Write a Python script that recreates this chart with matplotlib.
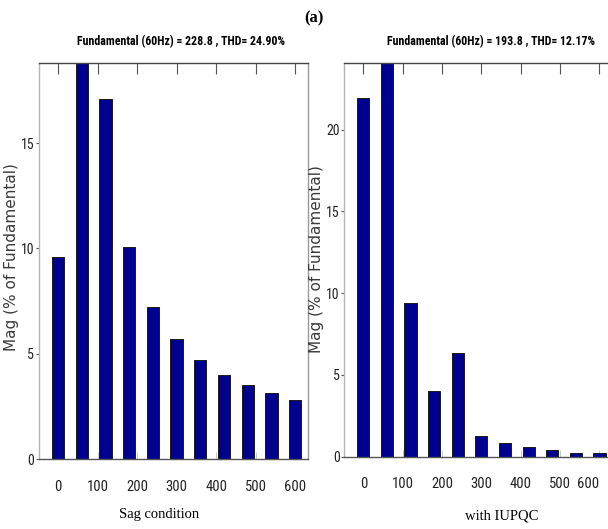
import matplotlib.pyplot as plt

# Harmonic order frequencies (Hz): DC, fundamental and harmonics 2-10 of 60 Hz
freq = [0, 60, 120, 180, 240, 300, 360, 420, 480, 540, 600]

# Magnitudes in % of fundamental (fundamental = 100 runs off the top)
sag_mag = [9.57, 100, 17.09, 10.05, 7.23, 5.68, 4.68, 4.00, 3.50, 3.13, 2.80]
iupqc_mag = [21.92, 100, 9.39, 4.02, 6.35, 1.27, 0.80, 0.57, 0.39, 0.23, 0.23]

titles = ['Fundamental (60Hz) = 228.8 , THD= 24.90%',
          'Fundamental (60Hz) = 193.8 , THD= 12.17%']
xlabels = ['Sag condition', 'with IUPQC']
ylabel = 'Mag (% of Fundamental)'
ymax = [18.8, 24.07]
yticks = [[0, 5, 10, 15], [0, 5, 10, 15, 20]]
xticks = [0, 100, 200, 300, 400, 500, 600]

narrow = ['Roboto Condensed', 'Liberation Sans Narrow', 'Liberation Sans']
serif = ['Liberation Serif']

fig = plt.figure(figsize=(6.08, 5.29), dpi=100)
axes = [fig.add_axes([0.0641, 0.1323, 0.4424, 0.7486]),
        fig.add_axes([0.5666, 0.1370, 0.4400, 0.7439])]

for ax, mag, top, yt in zip(axes, [sag_mag, iupqc_mag], ymax, yticks):
    ax.bar(freq, mag, width=31, color='#00008f', edgecolor='#1a1a1a',
           linewidth=0.7, zorder=2)
    ax.set_xlim(-48, 632)
    ax.set_ylim(0, top)

    ax.set_yticks(yt)
    ax.tick_params(axis='y', direction='out', length=2, color='#555555',
                   labelsize=10, pad=1.5)

    # top ticks long and dark, bottom ticks short and light
    ax.xaxis.remove_overlapping_locs = False
    ax.set_xticks(xticks)
    ax.set_xticks(xticks, minor=True)
    ax.tick_params(axis='x', which='major', direction='in', bottom=False,
                   top=True, length=8, color='#555555', labelsize=10.5, pad=15)
    ax.tick_params(axis='x', which='minor', direction='in', bottom=True,
                   top=False, length=5, color='#c0c0c0')
    for lab in ax.get_xticklabels() + ax.get_yticklabels():
        lab.set_family(narrow)
        lab.set_color('#222222')

    ax.spines['left'].set_color('#b5b5b5')
    ax.spines['right'].set_color('#999999')
    ax.spines['top'].set_color('#444444')
    ax.spines['bottom'].set_color('#555555')
    for s in ax.spines.values():
        s.set_linewidth(1.0)

# the last right-hand label sits at the figure edge; keep it inside
axes[1].get_xticklabels()[-1].set_horizontalalignment('right')

# titles, axis labels and panel tag
fig.text(0.2977, 0.9206, titles[0], ha='center', va='center', fontsize=8.6,
         fontweight='bold', family=narrow)
fig.text(0.8076, 0.9206, titles[1], ha='center', va='center', fontsize=8.6,
         fontweight='bold', family=narrow)
fig.text(0.2615, 0.0265, xlabels[0], ha='center', va='center', fontsize=10.5,
         family=serif)
fig.text(0.8257, 0.0250, xlabels[1], ha='center', va='center', fontsize=10.5,
         family=serif)
fig.text(0.019, 0.515, ylabel, rotation=90, ha='center', va='center',
         fontsize=11, color='#3a3a3a')
fig.text(0.521, 0.5104, ylabel, rotation=90, ha='center', va='center',
         fontsize=11, color='#3a3a3a')
fig.text(0.516, 0.966, '(a)', ha='center', va='center', fontsize=12,
         fontweight='bold', family=serif)

fig.savefig('out.png', dpi=100)
